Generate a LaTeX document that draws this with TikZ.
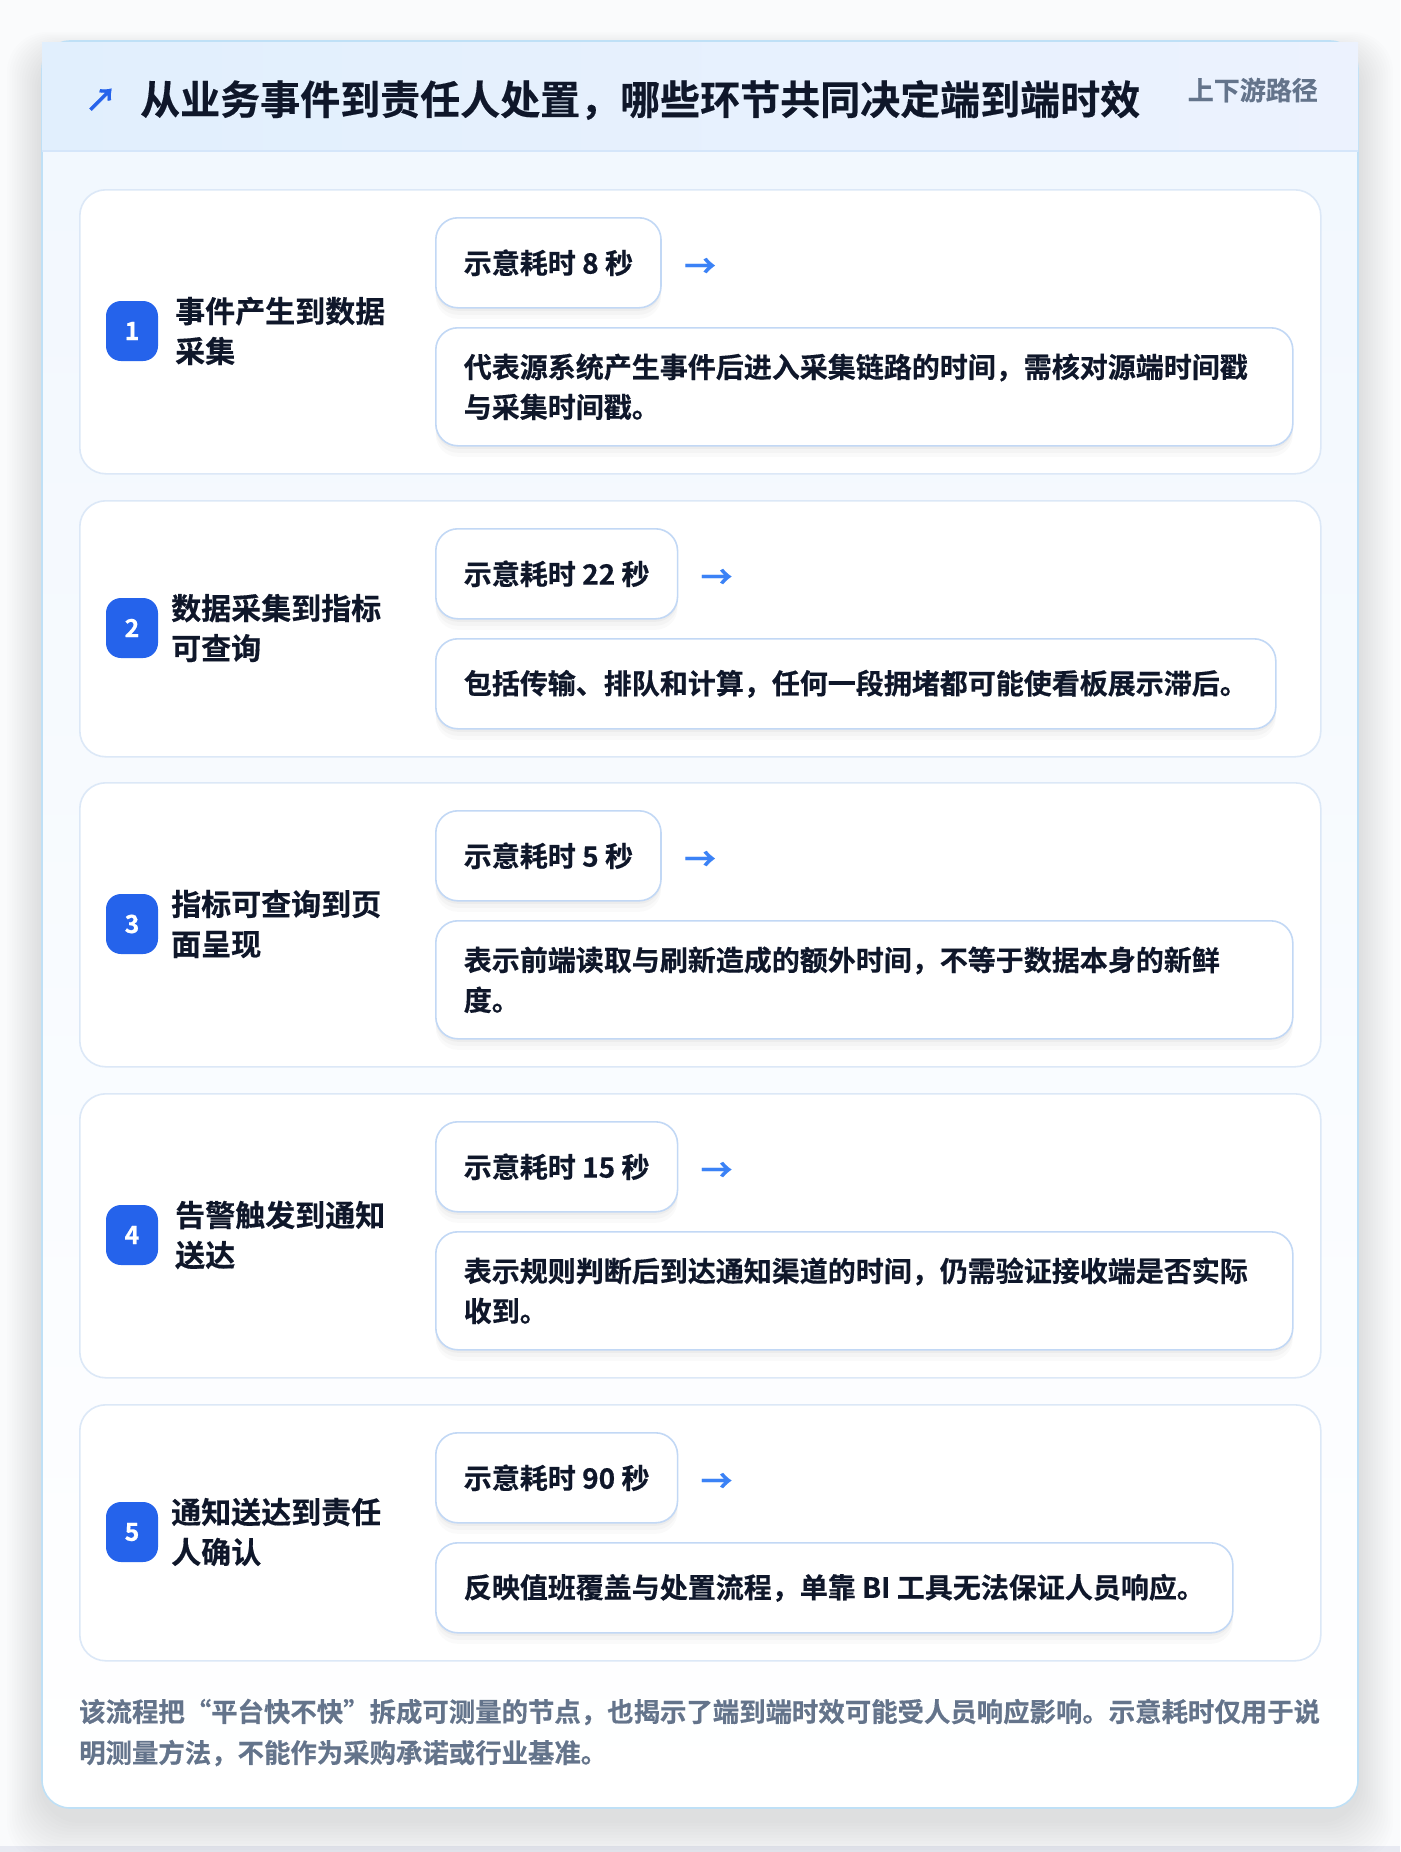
\documentclass[tikz,border=0pt]{standalone}
\usepackage{fontspec}
\setmainfont{Noto Sans CJK SC}[BoldFont={Noto Sans CJK SC Bold}, BoldFeatures={FakeBold=0.4}]
\usetikzlibrary{shadows,calc}
\definecolor{ink}{HTML}{0F172A}
\definecolor{muted}{HTML}{64748B}
\definecolor{badgeblue}{HTML}{2563EB}
\definecolor{arrowblue}{HTML}{3B82F6}
\definecolor{cardline}{HTML}{DCE8F7}
\definecolor{boxline}{HTML}{C2D8F5}
\definecolor{outerline}{HTML}{BFE0F6}
\definecolor{hdrL}{HTML}{E1EFFD}
\definecolor{hdrR}{HTML}{ECF2FE}
\definecolor{hdrline}{HTML}{D5E6FA}
\definecolor{bodytop}{HTML}{F1F7FE}
\definecolor{pagebg}{HTML}{FAFBFC}
\tikzset{
  stepcard/.style={draw=cardline, line width=1.6pt, fill=white, rounded corners=26pt, inner sep=0pt, minimum width=1241pt},
  badge/.style={fill=badgeblue, rounded corners=15pt, minimum width=52pt, minimum height=60pt, inner sep=0pt, text=white, font=\fontsize{25}{28}\selectfont\bfseries},
  steptitle/.style={inner sep=0pt, align=left, text=ink, font=\fontsize{30}{40}\selectfont\bfseries},
  boxshadow/.style={
    drop shadow={shadow xshift=0pt, shadow yshift=-3pt, opacity=.03, fill=black},
    drop shadow={shadow xshift=0pt, shadow yshift=-7pt, opacity=.025, fill=black},
    drop shadow={shadow xshift=0pt, shadow yshift=-11pt, opacity=.02, fill=black}},
  innerbox/.style={boxshadow, draw=boxline, line width=1.6pt, fill=white, rounded corners=22pt, inner xsep=28pt, inner ysep=0pt, text=ink, font=\fontsize{28}{40}\selectfont\bfseries},
  timebox/.style={innerbox, minimum height=90pt},
  descone/.style={innerbox, minimum height=90pt},
  desctwo/.style={innerbox, minimum height=118pt, text width=801pt, align=left},
  arr/.style={inner sep=0pt, text=arrowblue, font=\fontsize{32}{32}\selectfont\bfseries},
}
\newcommand\mkstep[9]{%
  \pgfmathsetmacro\cy{#2+#3/2}
  \node[stepcard, minimum height=#3pt, anchor=north west] (card#1) at (79,#2) {};
  \node[badge] (b#1) at (132,\cy) {#4};
  \node[steptitle, anchor=west] (h#1) at (#6,\cy) {#5};
  \node[timebox, anchor=north west] (t#1) at (435,{#2+28}) {#7};
  \node[arr, anchor=west] (a#1) at ([xshift=22pt,yshift=-5pt]t#1.east) {→};
  \node[#9, anchor=north west] (d#1) at (435,{#2+138}) {#8};
}
\begin{document}
\begin{tikzpicture}[x=1pt,y=-1pt]
\useasboundingbox (0,0) rectangle (1400,1852);
\fill[pagebg] (0,0) rectangle (1400,1852);
\fill[color={rgb,255:red,232;green,234;blue,242}] (0,1846) rectangle (1400,1852);
% outer soft shadow
\foreach \i in {1,...,14}{
  \fill[black, opacity=0.006, rounded corners=40pt] ({42-\i*2.5},{53-\i*1.5}) rectangle ({1358+\i*2.5},{1820+\i*3});
}
% outer card
\shade[top color=bodytop, bottom color=white, rounded corners=28pt] (42,41) rectangle (1358,1808);
\draw[outerline, line width=1.6pt, rounded corners=28pt] (42,41) rectangle (1358,1808);
% header band
\shade[left color=hdrL, right color=hdrR] (42,43) rectangle (1358,151);
\draw[hdrline, line width=1.5pt] (42,151) -- (1358,151);
\node[inner sep=0pt, text=badgeblue, font=\fontsize{32}{32}\selectfont\bfseries] (icon) at (101,100) {↗};
\node[inner sep=0pt, anchor=west, text=ink, font=\fontsize{40}{48}\selectfont\bfseries] (title) at (140,100) {从业务事件到责任人处置，哪些环节共同决定端到端时效};
\node[inner sep=0pt, anchor=east, text=muted, font=\fontsize{26}{30}\selectfont\bfseries] (tag) at (1318,90) {上下游路径};
% steps
\mkstep{1}{189}{284}{1}{事件产生到数据\\采集}{175}{示意耗时 8 秒}{代表源系统产生事件后进入采集链路的时间，需核对源端时间戳\\与采集时间戳。}{desctwo}
\mkstep{2}{500}{256}{2}{数据采集到指标\\可查询}{171}{示意耗时 22 秒}{包括传输、排队和计算，任何一段拥堵都可能使看板展示滞后。}{descone}
\mkstep{3}{782}{284}{3}{指标可查询到页\\面呈现}{171}{示意耗时 5 秒}{表示前端读取与刷新造成的额外时间，不等于数据本身的新鲜\\度。}{desctwo}
\mkstep{4}{1093}{284}{4}{告警触发到通知\\送达}{175}{示意耗时 15 秒}{表示规则判断后到达通知渠道的时间，仍需验证接收端是否实际\\收到。}{desctwo}
\mkstep{5}{1404}{256}{5}{通知送达到责任\\人确认}{171}{示意耗时 90 秒}{反映值班覆盖与处置流程，单靠 BI 工具无法保证人员响应。}{descone}
% footer
\node[inner sep=0pt, anchor=west, align=left, text=muted, font=\fontsize{26.4}{41}\selectfont\bfseries] (foot) at (79,1732.5) {该流程把“平台快不快”拆成可测量的节点，也揭示了端到端时效可能受人员响应影响。示意耗时仅用于说\\明测量方法，不能作为采购承诺或行业基准。};
\end{tikzpicture}
\end{document}
